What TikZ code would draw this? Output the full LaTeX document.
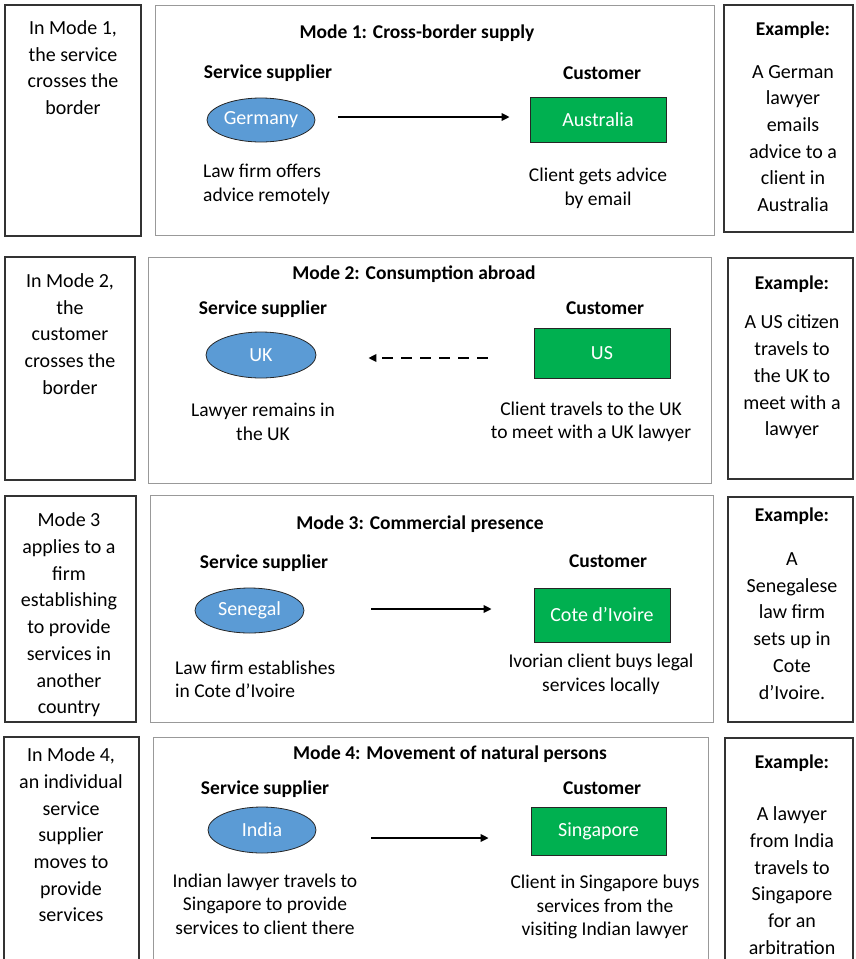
\documentclass[tikz,border=0pt]{standalone}
\usepackage{fontspec}
\setmainfont{Carlito}
\usetikzlibrary{arrows.meta,shapes.geometric}
\definecolor{supblue}{HTML}{5B9BD5}
\definecolor{custgreen}{HTML}{00B050}
\tikzset{
  sidebox/.style={draw=black!80, line width=1.4pt, inner sep=0pt},
  midbox/.style={draw=black!40, line width=1pt, inner sep=0pt},
  sidetext/.style={font=\fontsize{20}{26.7}\selectfont, align=center, inner sep=0pt},
  bodytext/.style={font=\fontsize{19.5}{23.5}\selectfont, inner sep=0pt},
  hdr/.style={font=\bfseries\fontsize{19.5}{23}\selectfont, inner sep=0pt},
  suppl/.style={ellipse, draw=black!85, line width=0.8pt, fill=supblue, text=white, font=\fontsize{20}{22}\selectfont, inner sep=0pt},
  custbox/.style={rectangle, draw=black!85, line width=0.8pt, fill=custgreen, text=white, font=\fontsize{20}{22}\selectfont, inner sep=0pt},
  arr/.style={line width=1.8pt, -{Triangle[length=8pt,width=7.5pt]}},
}
\begin{document}
\begin{tikzpicture}[x=1pt,y=-1pt]
\useasboundingbox (0,0) rectangle (855,959);
\clip (0,0) rectangle (855,959);
% ---------------- Mode 1 ----------------
\node[sidebox, minimum width=136pt, minimum height=231pt] (l1) at (73,120.5) {};
\node[midbox, minimum width=559pt, minimum height=230pt] (m1) at (434.5,120) {};
\node[sidebox, minimum width=129pt, minimum height=227pt] (r1) at (788.5,118.5) {};
\node[sidetext] (l1t) at (73,67.5) {In Mode 1,\\the service\\crosses the\\border};
\node[hdr] (m1t) at (417,33) {Mode 1: Cross-border supply};
\node[hdr] (m1s) at (268,73) {Service supplier};
\node[hdr] (m1c) at (602,73) {Customer};
\node[suppl, minimum width=108pt, minimum height=44pt] (ger) at (261,120) {Germany};
\node[custbox, minimum width=136pt, minimum height=45pt] (aus) at (598,119.5) {Australia};
\draw[arr, shorten <=23pt, shorten >=20pt] ([yshift=3pt]ger.east) -- ([yshift=3pt]ger.east -| aus.west);
\node[bodytext, align=left, anchor=west] (m1a) at (203,184.5) {Law firm offers\\advice remotely};
\node[bodytext, align=center] (m1b) at (598,188.5) {Client gets advice\\by email};
\node[hdr] (r1h) at (793,30) {Example:};
\node[sidetext] (r1t) at (793,138.5) {A German\\lawyer\\emails\\advice to a\\client in\\Australia};
% ---------------- Mode 2 ----------------
\node[sidebox, minimum width=130pt, minimum height=223pt] (l2) at (70,368.5) {};
\node[midbox, minimum width=563pt, minimum height=226pt] (m2) at (429.5,370) {};
\node[sidebox, minimum width=125pt, minimum height=221pt] (r2) at (790.5,368.5) {};
\node[sidetext] (l2t) at (70,334) {In Mode 2,\\the\\customer\\crosses the\\border};
\node[hdr] (m2t) at (414,274) {Mode 2: Consumption abroad};
\node[hdr] (m2s) at (263,309) {Service supplier};
\node[hdr] (m2c) at (605,308) {Customer};
\node[suppl, minimum width=110pt, minimum height=46pt] (uk) at (261,355) {UK};
\node[custbox, minimum width=136pt, minimum height=50pt] (us) at (602,353) {US};
\draw[arr, dash pattern=on 11pt off 8pt, shorten <=46pt, shorten >=52pt] ([yshift=-5pt]us.west) -- ([yshift=-5pt]us.west -| uk.east);
\node[bodytext, align=center] (m2a) at (263,422) {Lawyer remains in\\the UK};
\node[bodytext, align=center] (m2b) at (591,422) {Client travels to the UK\\to meet with a UK lawyer};
\node[hdr] (r2h) at (792,284) {Example:};
\node[sidetext] (r2t) at (792,377) {A US citizen\\travels to\\the UK to\\meet with a\\lawyer};
% ---------------- Mode 3 ----------------
\node[sidebox, minimum width=131pt, minimum height=226pt] (l3) at (70.5,609) {};
\node[midbox, minimum width=563pt, minimum height=227pt] (m3) at (431.5,608.5) {};
\node[sidebox, minimum width=125pt, minimum height=225pt] (r3) at (790.5,609.5) {};
\node[sidetext] (l3t) at (69,615) {Mode 3\\applies to a\\firm\\establishing\\to provide\\services in\\another\\country};
\node[hdr] (m3t) at (420,524) {Mode 3: Commercial presence};
\node[hdr] (m3s) at (264,563) {Service supplier};
\node[hdr] (m3c) at (608,561) {Customer};
\node[suppl, minimum width=109pt, minimum height=45pt] (sen) at (249.5,610.5) {Senegal};
\node[custbox, minimum width=136pt, minimum height=54pt] (civ) at (602,615) {Cote d’Ivoire};
\draw[arr, shorten <=67pt, shorten >=42pt] ([yshift=1.5pt]sen.east) -- ([yshift=1.5pt]sen.east -| civ.west);
\node[bodytext, align=left, anchor=west] (m3a) at (175,679.5) {Law firm establishes\\in Cote d’Ivoire};
\node[bodytext, align=center] (m3b) at (601,674.5) {Ivorian client buys legal\\services locally};
\node[hdr] (r3h) at (792,516) {Example:};
\node[sidetext] (r3t) at (792,626) {A\\Senegalese\\law firm\\sets up in\\Cote\\d’Ivoire.};
% ---------------- Mode 4 ----------------
\node[sidebox, minimum width=135pt, minimum height=240pt] (l4) at (71.5,857) {};
\node[midbox, minimum width=555pt, minimum height=240pt] (m4) at (430.5,857) {};
\node[sidebox, minimum width=128pt, minimum height=240pt] (r4) at (789,858) {};
\node[sidetext] (l4t) at (71,835) {In Mode 4,\\an individual\\service\\supplier\\moves to\\provide\\services};
\node[hdr] (m4t) at (450,754) {Mode 4: Movement of natural persons};
\node[hdr] (m4s) at (265,789) {Service supplier};
\node[hdr] (m4c) at (602,788) {Customer};
\node[suppl, minimum width=108pt, minimum height=46pt] (ind) at (262,830) {India};
\node[custbox, minimum width=135pt, minimum height=48pt] (sgp) at (598.5,831) {Singapore};
\draw[arr, shorten <=55pt, shorten >=42pt] ([yshift=-8pt]ind.east) -- ([yshift=-8pt]ind.east -| sgp.west);
\node[bodytext, align=center] (m4a) at (265,904) {Indian lawyer travels to\\Singapore to provide\\services to client there};
\node[bodytext, align=center] (m4b) at (605,907) {Client in Singapore buys\\services from the\\visiting Indian lawyer};
\node[hdr] (r4h) at (792,763) {Example:};
\node[sidetext] (r4t) at (792,880.5) {A lawyer\\from India\\travels to\\Singapore\\for an\\arbitration};
\end{tikzpicture}
\end{document}
